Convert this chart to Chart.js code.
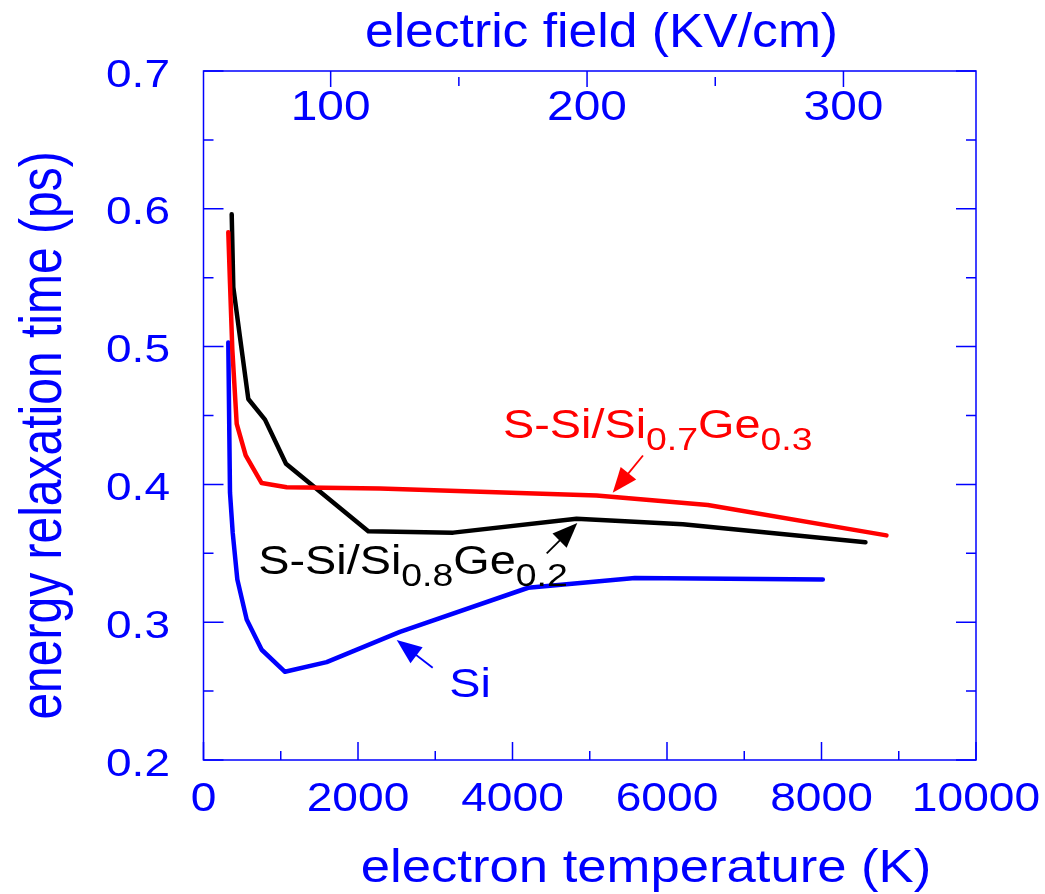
<!DOCTYPE html>
<html>
<head>
<meta charset="utf-8">
<script src="https://cdn.jsdelivr.net/npm/chart.js@4.4.1/dist/chart.umd.min.js"></script>
<style>
  html, body { margin: 0; padding: 0; background: #ffffff; }
  #wrap { position: relative; width: 1045px; height: 894px; }
</style>
</head>
<body>
<div id="wrap"><canvas id="c"></canvas></div>
<script>
// ---------------- data ----------------
const siTemp   = [321, 343, 378, 438, 559, 753, 1055, 1594, 2543, 4203, 5584, 8017];
const siTau    = [0.503, 0.394, 0.365, 0.331, 0.302, 0.280, 0.264, 0.271, 0.293, 0.325, 0.332, 0.331];

const ge3Temp  = [321, 343, 373, 430, 546, 753, 1077, 2284, 5088, 6528, 8841];
const ge3Tau   = [0.583, 0.546, 0.498, 0.444, 0.421, 0.401, 0.398, 0.397, 0.392, 0.385, 0.363];

const ge2Temp  = [365, 386, 472, 580, 796, 1068, 2133, 3232, 4829, 6205, 8569];
const ge2Tau   = [0.596, 0.543, 0.507, 0.462, 0.447, 0.415, 0.366, 0.365, 0.375, 0.371, 0.358];

const xMajorTicks = [0, 2000, 4000, 6000, 8000, 10000];
const xMinorTicks = [1000, 3000, 5000, 7000, 9000];
const xTickLabels = ['0', '2000', '4000', '6000', '8000', '10000'];

const yMajorTicks = [0.2, 0.3, 0.4, 0.5, 0.6, 0.7];
const yMinorTicks = [0.25, 0.35, 0.45, 0.55, 0.65];
const yTickLabels = ['0.2', '0.3', '0.4', '0.5', '0.6', '0.7'];

const fieldMajorTicks = [100, 200, 300];
const fieldMinorTicks = [150, 250];
const fieldTickLabels = ['100', '200', '300'];

const xTitle = 'electron temperature (K)';
const yTitle = 'energy relaxation time (ps)';
const topTitle = 'electric field (KV/cm)';

// annotation labels: [main, subscript, main, subscript]
const labelGe3 = ['S-Si/Si', '0.7', 'Ge', '0.3'];
const labelGe2 = ['S-Si/Si', '0.8', 'Ge', '0.2'];
const labelSi  = ['Si'];
// label anchors in data units [temperature, tau]
const anchorGe3 = [3877, 0.4335];
const anchorGe2 = [709, 0.3353];
const anchorSi  = [3182, 0.2458];
// arrows in data units: [tailT, tailTau, tipT, tipTau]
const arrowGe3 = [5689, 0.421, 5297, 0.394];
const arrowGe2 = [4443, 0.350, 4839, 0.372];
const arrowSi  = [2967, 0.267, 2501, 0.287];

// ---------------- helpers ----------------
const BLUE = '#0000ff', RED = '#ff0000', BLACK = '#000000';
const FONT = '"Liberation Sans", Arial, Helvetica, sans-serif';
const pts = (xs, ys) => xs.map((x, i) => ({ x: x, y: ys[i] }));

function drawText(ctx, s, x, y, size, sx, align, color) {
  ctx.save();
  ctx.font = size + 'px ' + FONT;
  ctx.fillStyle = color;
  ctx.textBaseline = 'alphabetic';
  ctx.textAlign = 'left';
  const w = ctx.measureText(s).width * sx;
  const x0 = align === 'center' ? x - w / 2 : (align === 'right' ? x - w : x);
  ctx.translate(x0, y);
  ctx.scale(sx, 1);
  ctx.fillText(s, 0, 0);
  ctx.restore();
  return w;
}

function drawRich(ctx, parts, x, y, color) {
  let cx = x;
  parts.forEach((p, i) => {
    const sub = i % 2 === 1;
    cx += drawText(ctx, p, cx, sub ? y + 12 : y, sub ? 32 : 40, 1.17, 'left', color);
  });
}

function drawArrow(ctx, x1, y1, x2, y2, color) {
  const ang = Math.atan2(y2 - y1, x2 - x1);
  const hl = 25, hw = 10;
  ctx.save();
  ctx.strokeStyle = color; ctx.fillStyle = color; ctx.lineWidth = 1.8;
  ctx.beginPath();
  ctx.moveTo(x1, y1);
  ctx.lineTo(x2 - Math.cos(ang) * hl * 0.8, y2 - Math.sin(ang) * hl * 0.8);
  ctx.stroke();
  ctx.beginPath();
  ctx.moveTo(x2, y2);
  ctx.lineTo(x2 - Math.cos(ang) * hl - Math.sin(ang) * hw, y2 - Math.sin(ang) * hl + Math.cos(ang) * hw);
  ctx.lineTo(x2 - Math.cos(ang) * hl + Math.sin(ang) * hw, y2 - Math.sin(ang) * hl - Math.cos(ang) * hw);
  ctx.closePath();
  ctx.fill();
  ctx.restore();
}

const framePlugin = {
  id: 'frame',
  afterDatasetsDraw(chart) {
    const ctx = chart.ctx;
    const a = chart.chartArea;
    const sx = chart.scales.x, sy = chart.scales.y, st = chart.scales.xTop;

    ctx.save();
    ctx.strokeStyle = BLUE;
    ctx.lineWidth = 1.5;
    ctx.strokeRect(a.left, a.top, a.right - a.left, a.bottom - a.top);

    ctx.beginPath();
    // bottom ticks (inward)
    xMajorTicks.forEach(v => { const p = sx.getPixelForValue(v); ctx.moveTo(p, a.bottom); ctx.lineTo(p, a.bottom - 18); });
    xMinorTicks.forEach(v => { const p = sx.getPixelForValue(v); ctx.moveTo(p, a.bottom); ctx.lineTo(p, a.bottom - 9); });
    // left and right ticks
    yMajorTicks.forEach(v => { const p = sy.getPixelForValue(v);
      ctx.moveTo(a.left, p); ctx.lineTo(a.left + 20, p);
      ctx.moveTo(a.right, p); ctx.lineTo(a.right - 20, p); });
    yMinorTicks.forEach(v => { const p = sy.getPixelForValue(v);
      ctx.moveTo(a.left, p); ctx.lineTo(a.left + 10, p);
      ctx.moveTo(a.right, p); ctx.lineTo(a.right - 10, p); });
    // top (electric field) ticks
    fieldMajorTicks.forEach(v => { const p = st.getPixelForValue(v); ctx.moveTo(p, a.top); ctx.lineTo(p, a.top + 16); });
    fieldMinorTicks.forEach(v => { const p = st.getPixelForValue(v); ctx.moveTo(p, a.top + 6); ctx.lineTo(p, a.top + 15); });
    ctx.stroke();
    ctx.restore();

    // tick labels
    xMajorTicks.forEach((v, i) => drawText(ctx, xTickLabels[i], sx.getPixelForValue(v), a.bottom + 51, 40.5, 1.14, 'center', BLUE));
    yMajorTicks.forEach((v, i) => drawText(ctx, yTickLabels[i], a.left - 33.5, sy.getPixelForValue(v) + 15.5, 39, 1.18, 'right', BLUE));
    fieldMajorTicks.forEach((v, i) => drawText(ctx, fieldTickLabels[i], st.getPixelForValue(v), a.top + 49, 42, 1.14, 'center', BLUE));

    // axis titles
    drawText(ctx, topTitle, 601.5, 47, 48, 1.075, 'center', BLUE);
    drawText(ctx, xTitle, 646, 882, 47, 1.12, 'center', BLUE);
    ctx.save();
    ctx.translate(61, 435.5);
    ctx.rotate(-Math.PI / 2);
    ctx.scale(1, 1.25);
    ctx.font = '48px ' + FONT;
    ctx.fillStyle = BLUE;
    ctx.textAlign = 'center';
    ctx.textBaseline = 'alphabetic';
    ctx.fillText(yTitle, 0, 0);
    ctx.restore();

    // annotations
    const P = (t, v) => [sx.getPixelForValue(t), sy.getPixelForValue(v)];
    let q = P(anchorGe3[0], anchorGe3[1]); drawRich(ctx, labelGe3, q[0], q[1], RED);
    q = P(anchorGe2[0], anchorGe2[1]); drawRich(ctx, labelGe2, q[0], q[1], BLACK);
    q = P(anchorSi[0], anchorSi[1]); drawRich(ctx, labelSi, q[0], q[1], BLUE);

    [[arrowGe3, RED], [arrowGe2, BLACK], [arrowSi, BLUE]].forEach(([ar, col]) => {
      const t = P(ar[0], ar[1]), h = P(ar[2], ar[3]);
      drawArrow(ctx, t[0], t[1], h[0], h[1], col);
    });
  }
};

const lineStyle = { borderWidth: 4.5, pointRadius: 0, tension: 0, fill: false,
                    borderJoinStyle: 'round', borderCapStyle: 'round' };

new Chart(document.getElementById('c'), {
  type: 'line',
  data: {
    datasets: [
      Object.assign({ label: 'S-Si/Si0.7Ge0.3', data: pts(ge3Temp, ge3Tau), borderColor: RED }, lineStyle),
      Object.assign({ label: 'S-Si/Si0.8Ge0.2', data: pts(ge2Temp, ge2Tau), borderColor: BLACK }, lineStyle),
      Object.assign({ label: 'Si', data: pts(siTemp, siTau), borderColor: BLUE }, lineStyle)
    ]
  },
  options: {
    responsive: true,
    maintainAspectRatio: false,
    animation: false,
    devicePixelRatio: 1,
    layout: { padding: { left: 203.5, right: 69, top: 71, bottom: 134 } },
    plugins: { legend: { display: false }, tooltip: { enabled: false }, title: { display: false } },
    scales: {
      x: { type: 'linear', min: 0, max: 10000, display: false },
      y: { type: 'linear', min: 0.2, max: 0.7, display: false },
      xTop: { type: 'linear', position: 'top', min: 50.4, max: 351.7, display: false }
    }
  },
  plugins: [framePlugin]
});
</script>
</body>
</html>
